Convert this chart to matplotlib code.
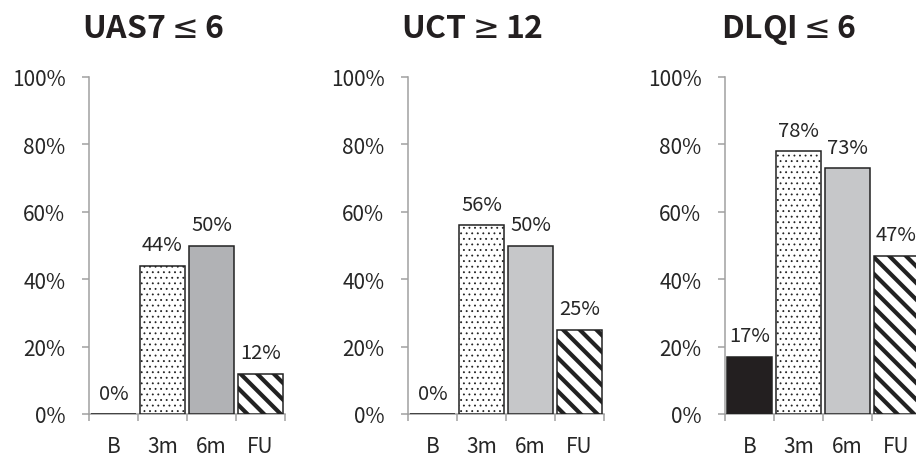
import matplotlib
matplotlib.use("Agg")
import matplotlib.pyplot as plt

plt.rcParams['font.family'] = ['Noto Sans CJK JP', 'DejaVu Sans']
plt.rcParams['mathtext.fontset'] = 'dejavusans'
plt.rcParams['hatch.color'] = '#111111'

# response rates (%) at baseline, 3 months, 6 months and follow-up
categories = ["B", "3m", "6m", "FU"]
titles = ["UAS7$\\leq$6", "UCT$\\geq$12", "DLQI$\\leq$6"]
uas7 = [0, 44, 50, 12]
uct = [0, 56, 50, 25]
dlqi = [17, 78, 73, 47]
y_ticks = [0, 20, 40, 60, 80, 100]

series = [uas7, uct, dlqi]
gray_6m = ["#b1b2b5", "#c6c7c9", "#c6c7c9"]
hatches = [None, "...", None, "\\\\"]
hatch_lw = [1.0, 0.6, 1.0, 3.0]

fig = plt.figure(figsize=(9.16, 4.56), dpi=100)
lefts = [89, 408, 725]
axis_col = "#a0a0a0"
text_col = "#262626"

for i, vals in enumerate(series):
    ax = fig.add_axes([lefts[i] / 916, 1 - 415 / 456, 196 / 916, 337 / 456])
    fills = ["#231f20", "white", gray_6m[i], "white"]
    for xi, v in enumerate(vals):
        with plt.rc_context({'hatch.linewidth': hatch_lw[xi]}):
            b = ax.bar(xi, v, width=0.92, color=fills[xi], edgecolor="#222222",
                       linewidth=1.1, hatch=hatches[xi], zorder=3)[0]
        if hasattr(b, "set_hatch_linewidth"):
            b.set_hatch_linewidth(hatch_lw[xi])
        ax.annotate(f"{v}%", (xi, v), xytext=(0, 11), textcoords="offset points",
                    ha="center", va="baseline", fontsize=14.5, color=text_col)

    ax.set_xlim(-0.5, 3.5)
    ax.set_ylim(0, 100)
    ax.set_yticks(y_ticks)
    ax.set_yticklabels([f"{t}%" for t in y_ticks])
    ax.set_xticks(range(len(categories)))
    ax.set_xticklabels(categories)
    ax.set_xticks([-0.5, 0.5, 1.5, 2.5, 3.5], minor=True)
    ax.tick_params(axis="x", which="major", length=0, pad=15, labelsize=15,
                   labelcolor=text_col)
    ax.tick_params(axis="x", which="minor", length=5, width=1.1, color=axis_col)
    ax.tick_params(axis="y", length=5, width=1.1, color=axis_col, pad=12,
                   labelsize=15, labelcolor=text_col)
    for s in ["top", "right"]:
        ax.spines[s].set_visible(False)
    for s in ["left", "bottom"]:
        ax.spines[s].set_color(axis_col)
        ax.spines[s].set_linewidth(1.1)
    ax.set_facecolor("none")
    ax.text(0.327, 1.12, titles[i], transform=ax.transAxes, ha="center",
            va="baseline", fontsize=23, fontweight="bold", color="#231f20")

fig.savefig("out.png", dpi=100)
